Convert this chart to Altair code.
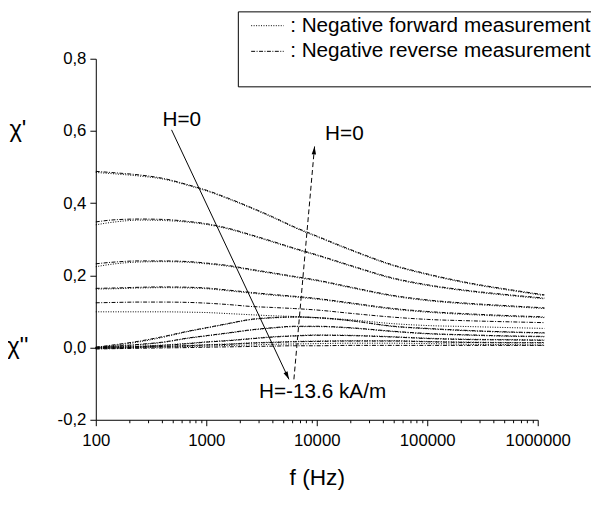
import altair as alt
import pandas as pd

FWD = "Negative forward measurement"
REV = "Negative reverse measurement"
FONT = "Liberation Sans"

freq = [100, 150, 250, 400, 700, 1000, 1600, 2500, 4000, 6300, 10000, 20000, 50000, 100000, 250000, 600000, 1150000]

# chi' (real part)
re_fwd_1 = [0.485, 0.481, 0.475, 0.467, 0.448, 0.434, 0.411, 0.387, 0.360, 0.332, 0.307, 0.270, 0.226, 0.202, 0.176, 0.157, 0.144]
re_rev_1 = [0.488, 0.484, 0.478, 0.469, 0.450, 0.436, 0.413, 0.389, 0.362, 0.334, 0.309, 0.272, 0.228, 0.204, 0.178, 0.159, 0.146]
re_fwd_2 = [0.340, 0.348, 0.353, 0.352, 0.347, 0.341, 0.328, 0.311, 0.292, 0.273, 0.255, 0.226, 0.190, 0.172, 0.155, 0.143, 0.135]
re_rev_2 = [0.348, 0.354, 0.356, 0.355, 0.349, 0.343, 0.330, 0.313, 0.294, 0.275, 0.257, 0.228, 0.192, 0.174, 0.157, 0.145, 0.137]
re_fwd_3 = [0.224, 0.232, 0.237, 0.238, 0.236, 0.232, 0.225, 0.215, 0.205, 0.195, 0.185, 0.166, 0.142, 0.130, 0.120, 0.113, 0.108]
re_rev_3 = [0.232, 0.237, 0.240, 0.240, 0.238, 0.234, 0.227, 0.217, 0.207, 0.197, 0.187, 0.168, 0.144, 0.132, 0.122, 0.115, 0.110]
re_fwd_4 = [0.162, 0.163, 0.165, 0.166, 0.165, 0.163, 0.157, 0.151, 0.145, 0.140, 0.134, 0.122, 0.106, 0.098, 0.091, 0.086, 0.083]
re_rev_4 = [0.164, 0.165, 0.167, 0.168, 0.167, 0.165, 0.159, 0.153, 0.147, 0.142, 0.136, 0.124, 0.108, 0.100, 0.093, 0.088, 0.085]
re_rev_5 = [0.124, 0.125, 0.126, 0.126, 0.125, 0.123, 0.119, 0.114, 0.111, 0.108, 0.104, 0.095, 0.084, 0.078, 0.074, 0.071, 0.069]
re_fwd_5 = [0.099, 0.099, 0.099, 0.099, 0.098, 0.097, 0.094, 0.091, 0.088, 0.086, 0.083, 0.077, 0.066, 0.061, 0.058, 0.055, 0.053]

# chi'' (imaginary part)
im_fwd_1 = [0.000, 0.006, 0.016, 0.028, 0.045, 0.054, 0.066, 0.077, 0.082, 0.084, 0.082, 0.074, 0.058, 0.052, 0.046, 0.042, 0.040]
im_rev_1 = [0.001, 0.008, 0.018, 0.030, 0.046, 0.055, 0.067, 0.078, 0.083, 0.085, 0.083, 0.075, 0.059, 0.053, 0.047, 0.043, 0.041]
im_fwd_2 = [0.000, 0.003, 0.008, 0.014, 0.026, 0.032, 0.040, 0.048, 0.054, 0.058, 0.058, 0.054, 0.044, 0.038, 0.034, 0.031, 0.030]
im_rev_2 = [0.001, 0.004, 0.009, 0.015, 0.027, 0.033, 0.041, 0.049, 0.055, 0.059, 0.059, 0.055, 0.045, 0.039, 0.035, 0.032, 0.031]
im_fwd_3 = [0.000, 0.002, 0.004, 0.007, 0.012, 0.016, 0.020, 0.025, 0.030, 0.033, 0.035, 0.034, 0.030, 0.026, 0.023, 0.022, 0.021]
im_rev_3 = [-0.001, 0.001, 0.003, 0.006, 0.011, 0.015, 0.019, 0.024, 0.029, 0.032, 0.034, 0.033, 0.029, 0.025, 0.022, 0.021, 0.020]
im_fwd_4 = [-0.002, 0.000, 0.002, 0.004, 0.006, 0.008, 0.010, 0.013, 0.015, 0.017, 0.018, 0.019, 0.019, 0.017, 0.015, 0.014, 0.014]
im_rev_4 = [-0.002, -0.001, 0.001, 0.003, 0.005, 0.007, 0.009, 0.012, 0.014, 0.016, 0.017, 0.018, 0.018, 0.016, 0.014, 0.013, 0.013]
im_fwd_5 = [-0.003, -0.002, 0.000, 0.001, 0.003, 0.004, 0.006, 0.007, 0.009, 0.010, 0.011, 0.012, 0.012, 0.011, 0.009, 0.008, 0.007]
im_rev_5 = [-0.004, -0.003, -0.002, -0.001, 0.000, 0.001, 0.002, 0.003, 0.004, 0.005, 0.005, 0.006, 0.006, 0.006, 0.006, 0.006, 0.006]

series = [
    ("re1f", FWD, re_fwd_1), ("re1r", REV, re_rev_1),
    ("re2f", FWD, re_fwd_2), ("re2r", REV, re_rev_2),
    ("re3f", FWD, re_fwd_3), ("re3r", REV, re_rev_3),
    ("re4f", FWD, re_fwd_4), ("re4r", REV, re_rev_4),
    ("re5r", REV, re_rev_5), ("re5f", FWD, re_fwd_5),
    ("im1f", FWD, im_fwd_1), ("im1r", REV, im_rev_1),
    ("im2f", FWD, im_fwd_2), ("im2r", REV, im_rev_2),
    ("im3f", FWD, im_fwd_3), ("im3r", REV, im_rev_3),
    ("im4f", FWD, im_fwd_4), ("im4r", REV, im_rev_4),
    ("im5f", FWD, im_fwd_5), ("im5r", REV, im_rev_5),
]

x_ticks = [100, 200, 300, 400, 500, 600, 700, 800, 900,
           1000, 2000, 3000, 4000, 5000, 6000, 7000, 8000, 9000,
           10000, 20000, 30000, 40000, 50000, 60000, 70000, 80000, 90000,
           100000, 200000, 300000, 400000, 500000, 600000, 700000, 800000, 900000,
           1000000]
x_labels = [100, 1000, 10000, 100000, 1000000]
y_ticks = [-0.2, -0.1, 0.0, 0.1, 0.2, 0.3, 0.4, 0.5, 0.6, 0.7, 0.8]

# annotations (data coordinates)
arrow_down_f = [485, 5600]
arrow_down_v = [0.603, -0.088]
arrow_up_f = [6210, 9550]
arrow_up_v = [-0.088, 0.557]
ann_center = pd.DataFrame({"f": [600], "v": [0.631], "t": ["H=0"]})
ann_left = pd.DataFrame({"f": [11900, 3000], "v": [0.590, -0.124], "t": ["H=0", "H=-13.6 kA/m"]})
chi_labels = pd.DataFrame({"f": [19.7, 19.7], "v": [0.603, 0.0], "t": ["χ'", "χ''"]})

rows = []
for cid, kind, vals in series:
    for f, v in zip(freq, vals):
        rows.append({"f": f, "v": v, "curve": cid, "kind": kind})
df = pd.DataFrame(rows)

xscale = alt.Scale(type="log", domain=[100, 1000000], nice=False)
yscale = alt.Scale(domain=[-0.2, 0.8], nice=False, zero=False)

dec = "[" + ",".join(str(v) for v in x_labels) + "]"
x_axis = alt.Axis(
    values=x_ticks, title="f (Hz)", grid=False,
    labelExpr=f"indexof({dec}, datum.value) >= 0 ? format(datum.value, 'd') : ''",
    tickSize={"condition": {"test": f"indexof({dec}, datum.value) >= 0", "value": 6}, "value": 3},
    labelFlush=False, labelOverlap=False, labelFontSize=17, labelFont=FONT, labelColor="black",
    labelPadding=7, titleFontSize=23, titleFont=FONT, titleFontWeight="normal", titleColor="black",
    titlePadding=19, domainColor="black", tickColor="black",
)
even = "abs(round(datum.value*10)) % 2 == 0"
y_axis = alt.Axis(
    values=y_ticks, title=None, grid=False,
    labelExpr=f"{even} ? ((datum.value < -0.01 ? '-' : '') + '0,' + abs(round(datum.value*10))) : ''",
    tickSize={"condition": {"test": even, "value": 6}, "value": 3},
    labelFlush=False, labelOverlap=False, labelFontSize=17, labelFont=FONT, labelColor="black",
    labelPadding=4, domainColor="black", tickColor="black",
)

# legend sample: short nominal symbol whose drawn line extends to the left
legend_stroke = "M-5.6,0L1,0"

curves = alt.Chart(df).mark_line(strokeWidth=1, color="black", interpolate="monotone").encode(
    x=alt.X("f:Q", scale=xscale, axis=x_axis),
    y=alt.Y("v:Q", scale=yscale, axis=y_axis),
    detail="curve:N",
    strokeDash=alt.StrokeDash(
        "kind:N",
        scale=alt.Scale(domain=[FWD, REV], range=[[1, 1.5], [4, 1.5, 1, 1.5]]),
        legend=alt.Legend(
            orient="none", legendX=144, legendY=-48, title=" ", titleOrient="bottom",
            titleFontSize=12, titlePadding=10, fillColor="white", strokeColor="black",
            padding=4, symbolOffset=27, symbolType=legend_stroke, symbolSize=100,
            symbolStrokeWidth=1, symbolStrokeColor="black", symbolFillColor="transparent",
            labelFontSize=21, labelFont=FONT,
            labelColor="black", labelOffset=1, rowPadding=4, labelLimit=0,
            labelExpr="': ' + datum.label",
        ),
    ),
)

a1 = alt.Chart(pd.DataFrame({"f": arrow_down_f, "v": arrow_down_v})).mark_line(color="black", strokeWidth=1).encode(x="f:Q", y="v:Q")
a2 = alt.Chart(pd.DataFrame({"f": arrow_up_f, "v": arrow_up_v})).mark_line(color="black", strokeWidth=1, strokeDash=[5, 3]).encode(x="f:Q", y="v:Q")
head_path = "M0,0L-0.28,1L0.28,1Z"
h1 = alt.Chart(pd.DataFrame({"f": arrow_down_f[1:], "v": arrow_down_v[1:]})).mark_point(
    shape=head_path, size=256, filled=True, color="black", opacity=1, angle=154.8).encode(x="f:Q", y="v:Q")
h2 = alt.Chart(pd.DataFrame({"f": arrow_up_f[1:], "v": arrow_up_v[1:]})).mark_point(
    shape=head_path, size=256, filled=True, color="black", opacity=1, angle=5.1).encode(x="f:Q", y="v:Q")

t1 = alt.Chart(ann_center).mark_text(align="center", baseline="middle", fontSize=21, font=FONT, color="black").encode(x="f:Q", y="v:Q", text="t:N")
t2 = alt.Chart(ann_left).mark_text(align="left", baseline="middle", fontSize=21, font=FONT, color="black").encode(x="f:Q", y="v:Q", text="t:N")
t3 = alt.Chart(chi_labels).mark_text(align="center", baseline="middle", fontSize=24, font=FONT, color="black").encode(x="f:Q", y="v:Q", text="t:N")

chart = alt.layer(curves, a1, a2, h1, h2, t1, t2, t3).properties(
    width=448, height=366,
    autosize=alt.AutoSizeParams(type="none"),
    padding={"left": 89, "top": 48, "right": 54, "bottom": 85},
).configure_view(stroke=None)

chart.save("out.html", embed_options={"renderer": "svg", "actions": False})
